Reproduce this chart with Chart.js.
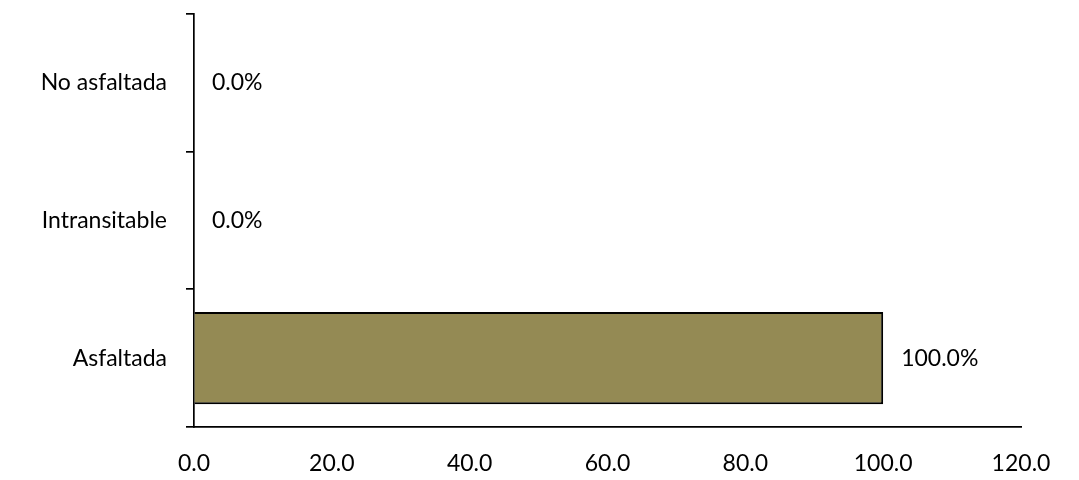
<!DOCTYPE html>
<html>
<head>
<meta charset="utf-8">
<script src="https://cdn.jsdelivr.net/npm/chart.js@4.4.1/dist/chart.umd.min.js"></script>
<style>
  html, body { margin: 0; padding: 0; background: #fff; }
  #wrap { width: 1079px; height: 480px; }
</style>
</head>
<body>
<div id="wrap"><canvas id="grafica"></canvas></div>
<script>
const categorias = ["No asfaltada", "Intransitable", "Asfaltada"];
const valores = [0, 0, 100];
const ticksX = [0, 20, 40, 60, 80, 100, 120];

const fuente = { family: "Lato, 'Open Sans', sans-serif", size: 23 };

// etiquetas de porcentaje al final de cada barra
const etiquetas = {
  id: "etiquetas",
  afterDatasetsDraw(chart) {
    const ctx = chart.ctx;
    const meta = chart.getDatasetMeta(0);
    ctx.save();
    ctx.font = fuente.size + "px " + fuente.family;
    ctx.fillStyle = "#000";
    ctx.textAlign = "left";
    ctx.textBaseline = "middle";
    meta.data.forEach((barra, i) => {
      ctx.fillText(valores[i].toFixed(1) + "%", barra.x + 18, barra.y);
    });
    ctx.restore();
  },
};

new Chart(document.getElementById("grafica"), {
  type: "bar",
  data: {
    labels: categorias,
    datasets: [
      {
        data: valores,
        backgroundColor: "#948a54",
        borderColor: "#000",
        borderWidth: 2,
        categoryPercentage: 1,
        barPercentage: 0.67,
      },
    ],
  },
  options: {
    indexAxis: "y",
    responsive: true,
    maintainAspectRatio: false,
    animation: false,
    layout: { padding: { top: 14, right: 58, left: 0, bottom: 0 } },
    plugins: {
      legend: { display: false },
      tooltip: { enabled: false },
    },
    scales: {
      x: {
        min: 0,
        max: 120,
        afterBuildTicks: (escala) => {
          escala.ticks = ticksX.map((v) => ({ value: v }));
        },
        afterFit: (escala) => {
          escala.height = 53;
          escala.paddingLeft = 0;
          escala.paddingRight = 0;
        },
        ticks: {
          color: "#000",
          font: fuente,
          padding: 23,
          maxRotation: 0,
          callback: (v) => Number(v).toFixed(1),
        },
        grid: { drawOnChartArea: false, drawTicks: false },
        border: { display: true, color: "#000", width: 1.7 },
      },
      y: {
        afterFit: (escala) => {
          escala.width = 194;
          escala.paddingTop = 0;
          escala.paddingBottom = 0;
        },
        ticks: { color: "#000", font: fuente, padding: 19 },
        grid: {
          drawOnChartArea: false,
          drawTicks: true,
          tickLength: 8,
          color: "#000",
          lineWidth: 1.7,
        },
        border: { display: true, color: "#000", width: 1.7 },
      },
    },
  },
  plugins: [etiquetas],
});
</script>
</body>
</html>
